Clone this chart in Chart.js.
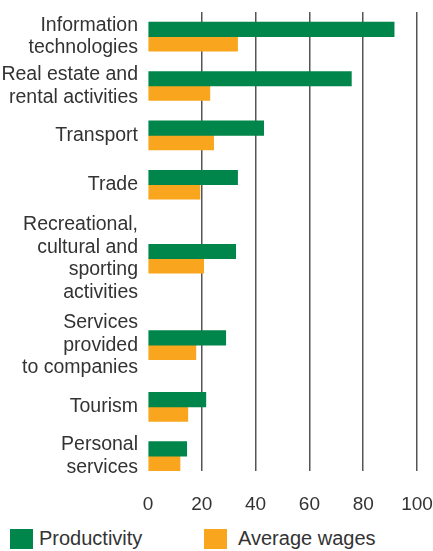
<!DOCTYPE html>
<html>
<head>
<meta charset="utf-8">
<script src="https://cdn.jsdelivr.net/npm/chart.js@4"></script>
<style>
  html, body { margin: 0; padding: 0; background: #fff; }
  body { width: 433px; height: 551px; overflow: hidden; font-family: "Liberation Sans", Arial, sans-serif; }
  #wrap { position: relative; width: 433px; height: 520px; }
  #legend { position: absolute; left: 0; top: 522px; width: 433px; height: 29px; font-size: 20px; color: #333; }
  .item { position: absolute; top: 5px; display: flex; align-items: center; }
  .box { width: 23px; height: 20px; margin-right: 6px; }
</style>
</head>
<body>
<div id="wrap"><canvas id="c"></canvas></div>
<div id="legend"></div>
<script>
const categories = [
  ["Information", "technologies"],
  ["Real estate and", "rental activities"],
  ["Transport"],
  ["Trade"],
  ["Recreational,", "cultural and", "sporting", "activities"],
  ["Services", "provided", "to companies"],
  ["Tourism"],
  ["Personal", "services"]
];
const productivity = [91.5, 75.6, 43, 33.3, 32.6, 28.9, 21.5, 14.4];
const averageWages = [33.3, 23, 24.4, 19.3, 20.7, 17.8, 14.8, 11.9];
const seriesNames = ["Productivity", "Average wages"];
const xTicks = [0, 20, 40, 60, 80, 100];

const GREEN = "#00854a";
const ORANGE = "#f9a61e";
const TEXT = "#333333";
const FONT = "'Liberation Sans', Arial, sans-serif";

// Layout: each category row gets a slot whose height depends on its label's line count
const SLOT_PER_LINE = 25;
const slots = categories.map(l => Math.max(2, l.length) * SLOT_PER_LINE);
const rowPos = [];
slots.forEach((h, i) => {
  rowPos.push(i === 0 ? 0 : rowPos[i - 1] + (slots[i - 1] + h) / 2);
});

const toPoints = (arr) => arr.map((v, i) => ({ x: v, y: rowPos[i] }));

const ctx = document.getElementById("c");
new Chart(ctx, {
  type: "bar",
  data: {
    datasets: [
      { label: seriesNames[0], data: toPoints(productivity), backgroundColor: GREEN, borderWidth: 0 },
      { label: seriesNames[1], data: toPoints(averageWages), backgroundColor: ORANGE, borderWidth: 0 }
    ]
  },
  options: {
    indexAxis: "y",
    responsive: true,
    maintainAspectRatio: false,
    animation: false,
    layout: { padding: { top: 12, right: 16, bottom: 0, left: 0 } },
    datasets: { bar: { barThickness: 14.5, grouped: true } },
    plugins: { legend: { display: false }, tooltip: { enabled: false } },
    scales: {
      x: {
        type: "linear",
        min: 0, max: 100,
        afterBuildTicks: (s) => { s.ticks = xTicks.map(v => ({ value: v })); },
        afterFit: (s) => { s.height = 49; s.paddingLeft = 0; s.paddingRight = 0; },
        border: { display: false },
        grid: {
          drawTicks: false,
          color: (c) => (c.tick && c.tick.value === 0) ? "rgba(0,0,0,0)" : "#555",
          lineWidth: 1.5
        },
        ticks: { color: TEXT, font: { family: FONT, size: 19 }, padding: 22 }
      },
      y: {
        type: "linear",
        reverse: true,
        offset: false,
        min: rowPos[0] - slots[0] / 2,
        max: rowPos[rowPos.length - 1] + 15,
        afterBuildTicks: (s) => { s.ticks = rowPos.map(v => ({ value: v })); },
        afterFit: (s) => { s.width = 148; s.paddingTop = 0; s.paddingBottom = 0; },
        border: { display: false },
        grid: { display: false, drawTicks: false, offset: false },
        ticks: {
          color: TEXT,
          font: { family: FONT, size: 19.5, lineHeight: 1.16 },
          padding: 10,
          autoSkip: false,
          callback: (v, i) => categories[i]
        }
      }
    }
  }
});

const legend = document.getElementById("legend");
const positions = [10, 204];
[GREEN, ORANGE].forEach((col, i) => {
  const it = document.createElement("div");
  it.className = "item";
  it.style.left = positions[i] + "px";
  const b = document.createElement("div");
  b.className = "box";
  b.style.background = col;
  if (i === 1) b.style.marginRight = "11px";
  const t = document.createElement("span");
  t.textContent = seriesNames[i];
  it.appendChild(b); it.appendChild(t);
  legend.appendChild(it);
});
</script>
</body>
</html>
